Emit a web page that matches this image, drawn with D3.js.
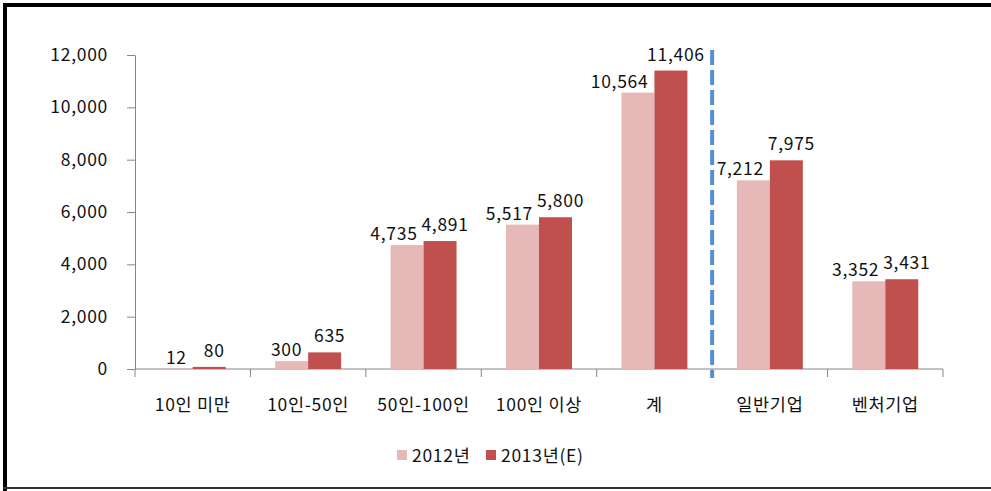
<!DOCTYPE html>
<html>
<head>
<meta charset="utf-8">
<script src="https://cdn.jsdelivr.net/npm/d3@7"></script>
<style>
  body { margin: 0; background: #fff; }
  text { font-family: "Noto Sans CJK KR", "Noto Sans", sans-serif; fill: #111; letter-spacing: 0.7px; }
</style>
</head>
<body>
<svg id="chart"></svg>
<script>
const categories = ['10인 미만', '10인-50인', '50인-100인', '100인 이상', '계', '일반기업', '벤처기업'];
const seriesNames = ['2012년', '2013년(E)'];
const values2012 = [12, 300, 4735, 5517, 10564, 7212, 3352];
const values2013 = [80, 635, 4891, 5800, 11406, 7975, 3431];
const yTicks = [0, 2000, 4000, 6000, 8000, 10000, 12000];
const colors = ['#e6b9b8', '#c0504d'];

const W = 991, H = 491;
const margin = {top: 55, bottom: 122, left: 135, right: 48};
const width = W - margin.left - margin.right;
const height = H - margin.top - margin.bottom;
const fs = '17.5px';

const root = d3.select('#chart')
  .attr('width', W)
  .attr('height', H);

// frame (top, left thick; bottom thin)
root.append('rect').attr('x', 3).attr('y', 3).attr('width', W).attr('height', 4).attr('fill', '#000');
root.append('rect').attr('x', 3).attr('y', 3).attr('width', 4).attr('height', H).attr('fill', '#000');
root.append('rect').attr('x', 3).attr('y', 487).attr('width', W).attr('height', 2).attr('fill', '#333');

const svg = root.append('g')
  .attr('transform', `translate(${margin.left}, ${margin.top})`);

const x0 = d3.scaleBand()
  .domain(categories)
  .range([0, width])
  .padding(0);

const x1 = d3.scaleBand()
  .domain(seriesNames)
  .range([0, x0.bandwidth()])
  .paddingInner(0)
  .paddingOuter(0.75);

const y = d3.scaleLinear()
  .domain([0, 12000])
  .range([height, 0]);

const fmt = d3.format(',');

// y axis
const yAxis = svg.append('g')
  .call(d3.axisLeft(y).tickValues(yTicks).tickFormat(fmt).tickSize(8).tickPadding(19).tickSizeOuter(0));
yAxis.select('.domain').attr('stroke', '#868686');
yAxis.selectAll('.tick line').attr('stroke', '#868686');
yAxis.selectAll('.tick text').style('font-size', fs).attr('fill', '#111');

// x axis with ticks at category boundaries
const xAxis = svg.append('g')
  .attr('transform', `translate(0, ${height})`);
xAxis.append('line')
  .attr('x1', 0).attr('x2', width)
  .attr('y1', 0).attr('y2', 0)
  .attr('stroke', '#868686');
const bounds = categories.map(c => x0(c)).concat([x0(categories[categories.length - 1]) + x0.bandwidth()]);
xAxis.selectAll('.xtick')
  .data(bounds)
  .enter()
  .append('line')
  .attr('class', 'xtick')
  .attr('x1', d => d).attr('x2', d => d)
  .attr('y1', 0).attr('y2', 8)
  .attr('stroke', '#868686');
xAxis.selectAll('.xlabel')
  .data(categories)
  .enter()
  .append('text')
  .attr('class', 'xlabel')
  .attr('x', d => x0(d) + x0.bandwidth() / 2)
  .attr('y', 42)
  .attr('text-anchor', 'middle')
  .style('font-size', fs)
  .text(d => d);

// bars
const rows = categories.map((c, i) => ({cat: c, vals: [values2012[i], values2013[i]]}));

const groups = svg.selectAll('.group')
  .data(rows)
  .enter()
  .append('g')
  .attr('class', 'group')
  .attr('transform', d => `translate(${x0(d.cat)}, 0)`);

groups.selectAll('rect')
  .data(d => d.vals.map((v, j) => ({s: seriesNames[j], v: v, j: j})))
  .enter()
  .append('rect')
  .attr('x', d => x1(d.s))
  .attr('y', d => y(d.v))
  .attr('width', x1.bandwidth())
  .attr('height', d => height - y(d.v))
  .attr('fill', d => colors[d.j]);

// value labels: 2012 pushed left, 2013 above its bar
groups.selectAll('.vlabel')
  .data(d => d.vals.map((v, j) => ({s: seriesNames[j], v: v, j: j})))
  .enter()
  .append('text')
  .attr('class', 'vlabel')
  .attr('x', d => d.j === 0 ? x1(d.s) + x1.bandwidth() - 6 : x1(d.s) + x1.bandwidth() / 2 + 5)
  .attr('y', d => y(d.v) - (d.j === 0 ? 5 : 10))
  .attr('text-anchor', d => d.j === 0 ? 'end' : 'middle')
  .style('font-size', fs)
  .text(d => fmt(d.v));

// dashed separator between 계 and 일반기업
const sepX = x0('일반기업');
svg.append('line')
  .attr('x1', sepX).attr('x2', sepX)
  .attr('y1', -5).attr('y2', height + 9)
  .attr('stroke', '#558ed5')
  .attr('stroke-width', 4)
  .attr('stroke-dasharray', '15,5');

// legend
const legend = root.append('g')
  .attr('transform', 'translate(397, 456)');
const legendX = [0, 89];
seriesNames.forEach((name, i) => {
  legend.append('rect')
    .attr('x', legendX[i]).attr('y', -6)
    .attr('width', 10).attr('height', 10)
    .attr('fill', colors[i]);
  legend.append('text')
    .attr('x', legendX[i] + 15).attr('y', 6)
    .style('font-size', fs)
    .text(name);
});
</script>
</body>
</html>
